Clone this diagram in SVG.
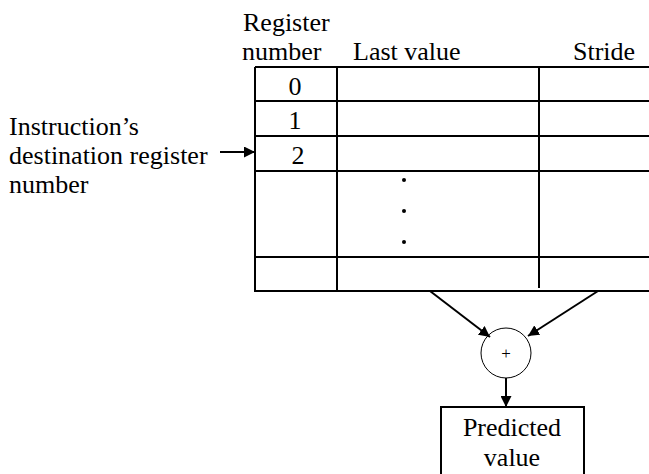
<svg xmlns="http://www.w3.org/2000/svg" width="649" height="474" viewBox="0 0 649 474">
<defs>
<style>
text{font-family:"Liberation Serif","Times New Roman",serif;font-size:26px;fill:#000}
.ln{stroke:#000;stroke-width:2;fill:none}
.thin{stroke:#000;stroke-width:1;fill:#fff}
</style>
<marker id="ah" viewBox="0 0 10 10" refX="10" refY="5" markerWidth="11" markerHeight="11" markerUnits="userSpaceOnUse" orient="auto">
<path d="M0,0 L10,5 L0,10 Z" fill="#000"/>
</marker>
</defs>
<rect width="649" height="474" fill="#fff"/>
<g id="table">
<text x="243" y="31">Register</text>
<text x="242" y="60">number</text>
<text x="353" y="60">Last value</text>
<text x="573" y="60">Stride</text>
<path class="ln" d="M255,67 H649 M255,67 V291 H649 M337,67 V291 M539,67 V288 M255,101 H649 M255,136 H649 M255,171 H649 M255,257 H649"/>
<text x="295" y="95" text-anchor="middle">0</text>
<text x="295" y="129" text-anchor="middle">1</text>
<text x="298" y="164" text-anchor="middle">2</text>
<circle cx="404" cy="180" r="2"/>
<circle cx="404" cy="211" r="2"/>
<circle cx="404" cy="242" r="2"/>
</g>
<g id="source">
<text x="9" y="135">Instruction’s</text>
<text x="9" y="164">destination register</text>
<text x="9" y="193">number</text>
</g>
<g id="adder">
<circle class="thin" cx="506" cy="353" r="25"/>
<text x="506" y="359" text-anchor="middle" style="font-size:17px">+</text>
</g>
<g id="predicted">
<rect class="ln" x="441" y="407" width="143" height="70"/>
<text x="512" y="436" text-anchor="middle">Predicted</text>
<text x="512" y="466" text-anchor="middle">value</text>
</g>
<g id="connectors">
<line class="ln" x1="220" y1="152" x2="255" y2="152" marker-end="url(#ah)"/>
<line class="ln" x1="430" y1="291" x2="490" y2="337" marker-end="url(#ah)"/>
<line class="ln" x1="598" y1="291" x2="528" y2="336" marker-end="url(#ah)"/>
<line class="ln" x1="506" y1="378" x2="506" y2="407" marker-end="url(#ah)"/>
</g>
</svg>
